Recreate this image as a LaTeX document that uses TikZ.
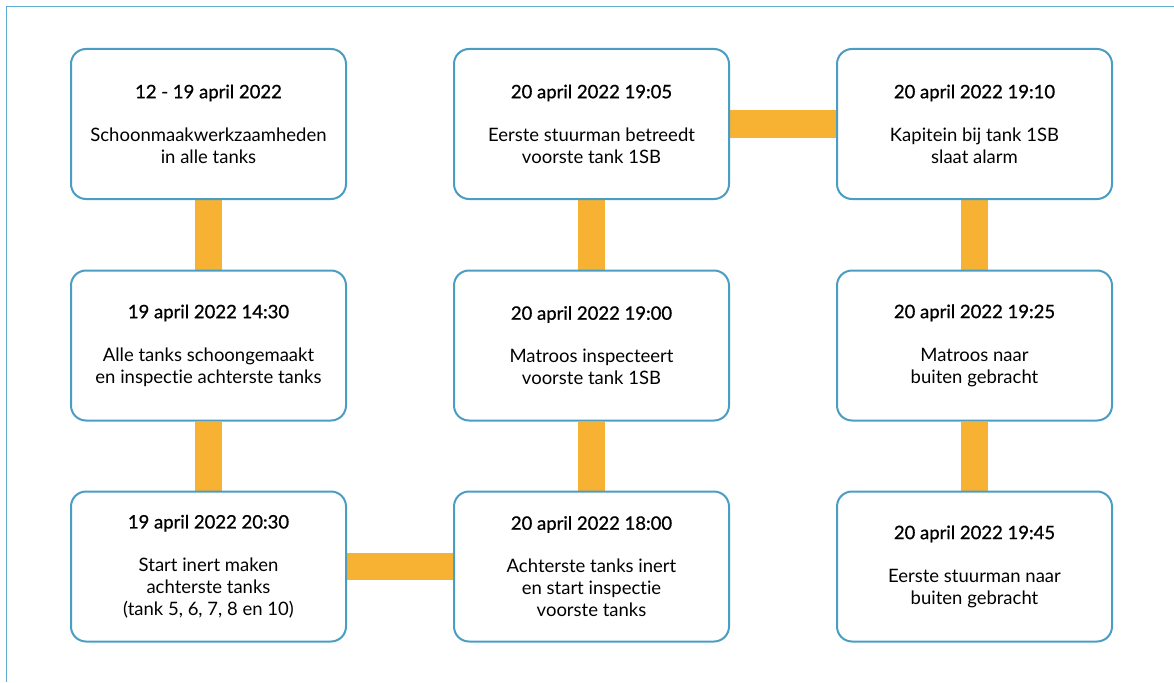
\documentclass[tikz,border=0pt]{standalone}
\usepackage{fontspec}
\setmainfont{Lato}[Ligatures=NoCommon]
\newfontfamily\titlefont{Lato}[Ligatures=NoCommon, FakeBold=0.8]
\usetikzlibrary{backgrounds}
\definecolor{boxblue}{HTML}{4A9DC3}
\definecolor{linkorange}{HTML}{F7B133}
\definecolor{frameblue}{HTML}{62AED0}
\tikzset{
  eventbox/.style={draw=boxblue, line width=2pt, fill=white, rounded corners=15pt,
    minimum width=275pt, minimum height=150pt, align=center,
    font=\fontsize{18.5}{22}\selectfont},
  timelink/.style={draw=linkorange, line width=27pt},
  frameline/.style={draw=frameblue, line width=1.2pt}
}
\newcommand{\event}[5]{ \node[eventbox] (#1) at ( #2 , #3 ) {{\titlefont #4}\\[21pt]#5};}
\newcommand{\timelink}[2]{ \draw[timelink] (#1) -- (#2);}

\begin{document}
\begin{tikzpicture}[x=1pt, y=-1pt]
    \useasboundingbox (0,0) rectangle (1174,682);
    \draw[frameline] (6.5,682) -- (6.5,6.5) -- (1174,6.5);
    % kolom 1
    \event{schoonmaak}{208.5}{124}{12 - 19 april 2022}{Schoonmaakwerkzaamheden\\in alle tanks}
    \event{schoon}{208.5}{345.5}{19 april 2022 14:30}{Alle tanks schoongemaakt\\en inspectie achterste tanks}
    \event{inert}{208.5}{566.5}{19 april 2022 20:30}{Start inert maken\\achterste tanks\\(tank 5, 6, 7, 8 en 10)}
    % kolom 2
    \event{achter}{591.5}{566.5}{20 april 2022 18:00}{Achterste tanks inert\\en start inspectie\\voorste tanks}
    \event{matroos}{591.5}{345.5}{20 april 2022 19:00}{Matroos inspecteert\\voorste tank 1SB}
    \event{stuurman}{591.5}{124}{20 april 2022 19:05}{Eerste stuurman betreedt\\voorste tank 1SB}
    % kolom 3
    \event{kapitein}{974.5}{124}{20 april 2022 19:10}{Kapitein bij tank 1SB\\slaat alarm}
    \event{matroosuit}{974.5}{345.5}{20 april 2022 19:25}{Matroos naar\\buiten gebracht}
    \event{stuurmanuit}{974.5}{566.5}{20 april 2022 19:45}{Eerste stuurman naar\\buiten gebracht}
    \begin{scope}[on background layer]
        \timelink{schoonmaak.south}{schoon.north}
        \timelink{schoon.south}{inert.north}
        \timelink{inert.east}{achter.west}
        \timelink{achter.north}{matroos.south}
        \timelink{matroos.north}{stuurman.south}
        \timelink{stuurman.east}{kapitein.west}
        \timelink{kapitein.south}{matroosuit.north}
        \timelink{matroosuit.south}{stuurmanuit.north}
    \end{scope}
\end{tikzpicture}
\end{document}
